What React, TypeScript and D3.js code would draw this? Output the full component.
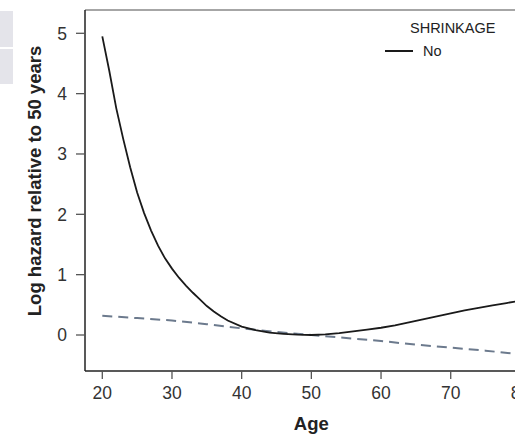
import * as d3 from "d3";

const ages = [20, 21, 22, 23, 24, 25, 26, 27, 28, 29, 30, 31, 32, 33, 34, 35, 36, 37, 38, 40, 42, 44, 46, 48, 50, 52, 54, 56, 58, 60, 62, 64, 66, 68, 70, 72, 74, 76, 78, 80];
const noShrink = [4.95, 4.38, 3.76, 3.25, 2.78, 2.36, 2.02, 1.73, 1.48, 1.27, 1.1, 0.95, 0.82, 0.7, 0.59, 0.48, 0.39, 0.31, 0.24, 0.14, 0.08, 0.04, 0.02, 0.005, 0, 0.01, 0.03, 0.06, 0.09, 0.12, 0.16, 0.21, 0.26, 0.31, 0.36, 0.41, 0.45, 0.49, 0.53, 0.57];

const dashAges = [20, 25, 30, 35, 40, 45, 50, 55, 60, 65, 70, 75, 80];
const shrink = [0.32, 0.28, 0.24, 0.18, 0.11, 0.05, 0, -0.05, -0.1, -0.16, -0.21, -0.26, -0.32];

const xTicks = [20, 30, 40, 50, 60, 70, 80];
const yTicks = [0, 1, 2, 3, 4, 5];

const width = 515;
const height = 434;
const font = "'Liberation Sans', Arial, Helvetica, sans-serif";

const App = () => {
  const x = d3.scaleLinear().domain([20, 80]).range([102.3, 520.4]);
  const y = d3.scaleLinear().domain([0, 5]).range([335, 33.3]);

  const left = 85;
  const top = 10;
  const bottom = 371;

  const line = d3
    .line<[number, number]>()
    .x(d => x(d[0]))
    .y(d => y(d[1]));

  const solid = line(ages.map((a, i) => [a, noShrink[i]]));
  const dashed = line(dashAges.map((a, i) => [a, shrink[i]]));

  return (
    <svg
      width={width}
      height={height}
      style={{ position: "absolute", left: 0, top: 0, background: "#fff" }}
      fontFamily={font}
    >
      <rect x={0} y={11} width={13} height={36} fill="#e4e4ea" />
      <rect x={0} y={49} width={13} height={35} fill="#e4e4ea" />

      <clipPath id="plot">
        <rect x={left} y={top} width={width - left} height={bottom - top} />
      </clipPath>
      <g clipPath="url(#plot)">
        <path d={dashed ?? ""} fill="none" stroke="#6c7a8d" strokeWidth={2} strokeDasharray="10,6" />
        <path d={solid ?? ""} fill="none" stroke="#1a1a1a" strokeWidth={1.8} />
      </g>

      <line x1={left} x2={width} y1={top} y2={top} stroke="#888" strokeWidth={1.5} />
      <line x1={left} x2={left} y1={top} y2={bottom} stroke="#222" strokeWidth={1.5} />
      <line x1={left} x2={width} y1={bottom} y2={bottom} stroke="#222" strokeWidth={1.5} />

      {yTicks.map(t => (
        <g key={t}>
          <line x1={76} x2={left} y1={y(t)} y2={y(t)} stroke="#555" strokeWidth={1.3} />
          <text x={67} y={y(t)} dy="0.36em" textAnchor="end" fontSize={17.5} fill="#333">
            {t}
          </text>
        </g>
      ))}

      {xTicks.map(t => (
        <g key={t}>
          <line x1={x(t)} x2={x(t)} y1={bottom} y2={379} stroke="#555" strokeWidth={1.3} />
          <text x={x(t)} y={399} textAnchor="middle" fontSize={17.5} fill="#333">
            {t}
          </text>
        </g>
      ))}

      <text x={x(50)} y={430} textAnchor="middle" fontSize={18.5} fontWeight="bold" fill="#222">
        Age
      </text>
      <text
        transform={`translate(41,181) rotate(-90)`}
        textAnchor="middle"
        fontSize={18.5}
        fontWeight="bold"
        fill="#222"
      >
        Log hazard relative to 50 years
      </text>

      <text x={410} y={33} fontSize={14.5} fill="#222">
        SHRINKAGE
      </text>
      <line x1={385} x2={413} y1={51} y2={51} stroke="#1a1a1a" strokeWidth={2} />
      <text x={423} y={56} fontSize={14.5} fill="#222">
        No
      </text>
    </svg>
  );
};

export default App;
